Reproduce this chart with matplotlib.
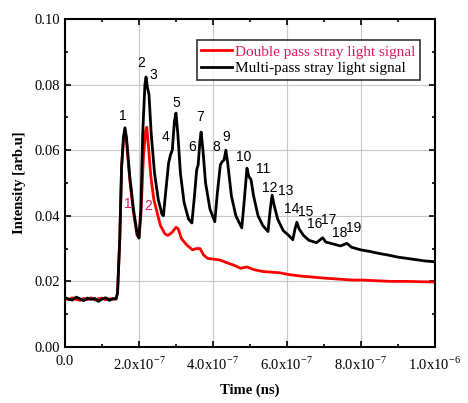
import numpy as np
import matplotlib
matplotlib.use('Agg')
import matplotlib.pyplot as plt
from matplotlib.ticker import MultipleLocator, FixedLocator

plt.rcParams['font.family'] = ['Liberation Serif', 'DejaVu Serif']
plt.rcParams['mathtext.fontset'] = 'custom'
plt.rcParams['mathtext.rm'] = 'Liberation Serif'

# time in units of 1e-7, intensity in arb.u
t_multi = [0.0, 0.1, 0.2, 0.3, 0.4, 0.5, 0.6, 0.7, 0.8, 0.9, 1.0, 1.1, 1.2, 1.3, 1.38,
           1.42, 1.48, 1.53, 1.58, 1.62, 1.66, 1.75, 1.85, 1.95, 2.00,
           2.05, 2.10, 2.16, 2.19, 2.23, 2.27, 2.33, 2.42, 2.52, 2.62, 2.66,
           2.72, 2.80, 2.85, 2.90, 2.96, 3.00, 3.05, 3.12, 3.22, 3.34, 3.43,
           3.50, 3.56, 3.60, 3.65, 3.68, 3.73, 3.80, 3.92, 4.05,
           4.12, 4.20, 4.25, 4.30, 4.35, 4.40, 4.50, 4.62, 4.78,
           4.85, 4.92, 4.97, 5.03, 5.10, 5.22, 5.35, 5.49,
           5.55, 5.60, 5.66, 5.75, 5.90, 6.05, 6.16,
           6.22, 6.27, 6.33, 6.45, 6.60, 6.80, 6.97, 7.05, 7.25, 7.45, 7.62, 7.75,
           8.00, 8.25, 8.50, 8.75, 9.00, 9.25, 9.50, 9.75, 10.0]
v_multi = [0.0150, 0.0146, 0.0143, 0.0152, 0.0147, 0.0141, 0.0149, 0.0145, 0.0148, 0.0139, 0.0146, 0.0150, 0.0142, 0.0148, 0.0146,
           0.0165, 0.0330, 0.0550, 0.0640, 0.0668, 0.0640, 0.0520, 0.0420, 0.0345, 0.0332,
           0.0420, 0.0650, 0.0800, 0.0823, 0.0790, 0.0770, 0.0650, 0.0530, 0.0450, 0.0405, 0.0400,
           0.0470, 0.0560, 0.0585, 0.0600, 0.0690, 0.0713, 0.0650, 0.0530, 0.0440, 0.0390, 0.0378,
           0.0460, 0.0540, 0.0555, 0.0630, 0.0655, 0.0600, 0.0500, 0.0420, 0.0382,
           0.0470, 0.0555, 0.0565, 0.0570, 0.0600, 0.0560, 0.0460, 0.0400, 0.0363,
           0.0450, 0.0545, 0.0520, 0.0510, 0.0460, 0.0400, 0.0370, 0.0352,
           0.0420, 0.0463, 0.0430, 0.0390, 0.0355, 0.0340, 0.0327,
           0.0360, 0.0380, 0.0360, 0.0340, 0.0325, 0.0318, 0.0333, 0.0320, 0.0314, 0.0308, 0.0316, 0.0304,
           0.0296, 0.0291, 0.0285, 0.0280, 0.0274, 0.0270, 0.0266, 0.0262, 0.0260]

t_double = [0.0, 0.1, 0.2, 0.3, 0.4, 0.5, 0.6, 0.7, 0.8, 0.9, 1.0, 1.1, 1.2, 1.3, 1.38,
            1.42, 1.48, 1.53, 1.58, 1.62, 1.66, 1.75, 1.85, 1.95, 2.00,
            2.05, 2.12, 2.18, 2.21, 2.25, 2.32, 2.40, 2.49, 2.58, 2.70, 2.78,
            2.90, 3.00, 3.06, 3.15, 3.30, 3.45, 3.55, 3.65, 3.75, 3.86,
            4.00, 4.19, 4.35, 4.55, 4.75, 4.92, 5.10, 5.35, 5.60, 5.81,
            6.10, 6.40, 6.70, 7.00, 7.40, 7.78, 8.05, 8.40, 8.80, 9.20, 9.60, 10.0]
v_double = [0.0148, 0.0144, 0.0150, 0.0145, 0.0142, 0.0148, 0.0144, 0.0150, 0.0143, 0.0147, 0.0149, 0.0144, 0.0147, 0.0145, 0.0148,
            0.0165, 0.0330, 0.0550, 0.0630, 0.0660, 0.0630, 0.0510, 0.0410, 0.0340, 0.0335,
            0.0400, 0.0580, 0.0660, 0.0670, 0.0620, 0.0520, 0.0450, 0.0410, 0.0370, 0.0345, 0.0340,
            0.0350, 0.0365, 0.0360, 0.0330, 0.0310, 0.0296, 0.0300, 0.0300, 0.0280, 0.0270,
            0.0268, 0.0265, 0.0258, 0.0250, 0.0240, 0.0244, 0.0236, 0.0230, 0.0228, 0.0226,
            0.0220, 0.0216, 0.0213, 0.0210, 0.0207, 0.0204, 0.0204, 0.0202, 0.0200, 0.0200, 0.0199, 0.0198]

# peak labels (black) and (red)
peak_labels = ['1', '2', '3', '4', '5', '6', '7', '8', '9', '10', '11', '12', '13', '14', '15', '16', '17', '18', '19']
peak_t = [1.57, 2.06, 2.38, 2.73, 3.00, 3.43, 3.65, 4.08, 4.35, 4.84, 5.35, 5.54, 5.97, 6.14, 6.51, 6.76, 7.12, 7.43, 7.80]
peak_v = [0.0705, 0.0865, 0.0830, 0.0640, 0.0745, 0.0610, 0.0700, 0.0610, 0.0640, 0.0580, 0.0543, 0.0485, 0.0475, 0.0420, 0.0413, 0.0375, 0.0388, 0.0348, 0.0363]
red_labels = ['1', '2']
red_t = [1.69, 2.24]
red_v = [0.0435, 0.0430]

fig = plt.figure(figsize=(4.68, 4.03), dpi=100)
ax = fig.add_axes([0.139, 0.139, 0.790, 0.814])

ax.grid(True, color='#c8c8c8', linewidth=0.8)
ax.set_axisbelow(True)

l_red, = ax.plot(np.array(t_double) * 1e-7, v_double, color='red', linewidth=2.0,
                 label='Double pass stray light signal')
l_blk, = ax.plot(np.array(t_multi) * 1e-7, v_multi, color='black', linewidth=2.0,
                 label='Multi-pass stray light signal')

for lab, t, v in zip(peak_labels, peak_t, peak_v):
    ax.text(t * 1e-7, v, lab, fontsize=10, family=['Liberation Sans', 'DejaVu Sans'],
            ha='center', va='center', color='black')
for lab, t, v in zip(red_labels, red_t, red_v):
    ax.text(t * 1e-7, v, lab, fontsize=10, family=['Liberation Sans', 'DejaVu Sans'],
            ha='center', va='center', color='#e8175d')

ax.set_xlim(0, 1e-6)
ax.set_ylim(0, 0.1)
xt = [0, 2e-7, 4e-7, 6e-7, 8e-7, 1e-6]
xl = ['0.0', '2.0x10$^{-7}$', '4.0x10$^{-7}$', '6.0x10$^{-7}$', '8.0x10$^{-7}$', '1.0x10$^{-6}$']
ax.xaxis.set_major_locator(FixedLocator(xt))
ax.set_xticklabels(xl)
ax.xaxis.set_minor_locator(MultipleLocator(1e-7))
ax.yaxis.set_major_locator(MultipleLocator(0.02))
ax.yaxis.set_minor_locator(MultipleLocator(0.01))
ax.set_yticklabels(['%.2f' % v for v in ax.get_yticks()])
ax.tick_params(which='both', direction='in', top=True, right=True, labelsize=10.5, width=1.2)
ax.tick_params(which='major', length=4)
ax.tick_params(which='minor', length=2.5)
ax.tick_params(axis='x', pad=6)
for s in ax.spines.values():
    s.set_linewidth(1.5)

ax.set_xlabel('Time (ns)', fontsize=10.5, fontweight='bold', labelpad=8)
ax.set_ylabel('Intensity [arb.u]', fontsize=10.5, fontweight='bold', labelpad=6)

leg = ax.legend(handles=[l_red, l_blk], loc='upper right', bbox_to_anchor=(0.96, 0.935),
                fontsize=11, frameon=True, fancybox=False, edgecolor='black',
                handlelength=2.0, handletextpad=0.2, borderpad=0.3, labelspacing=0.2,
                borderaxespad=0)
leg.get_frame().set_linewidth(1.2)
leg.get_texts()[0].set_color('#e8175d')

fig.savefig('out.png', dpi=100)
